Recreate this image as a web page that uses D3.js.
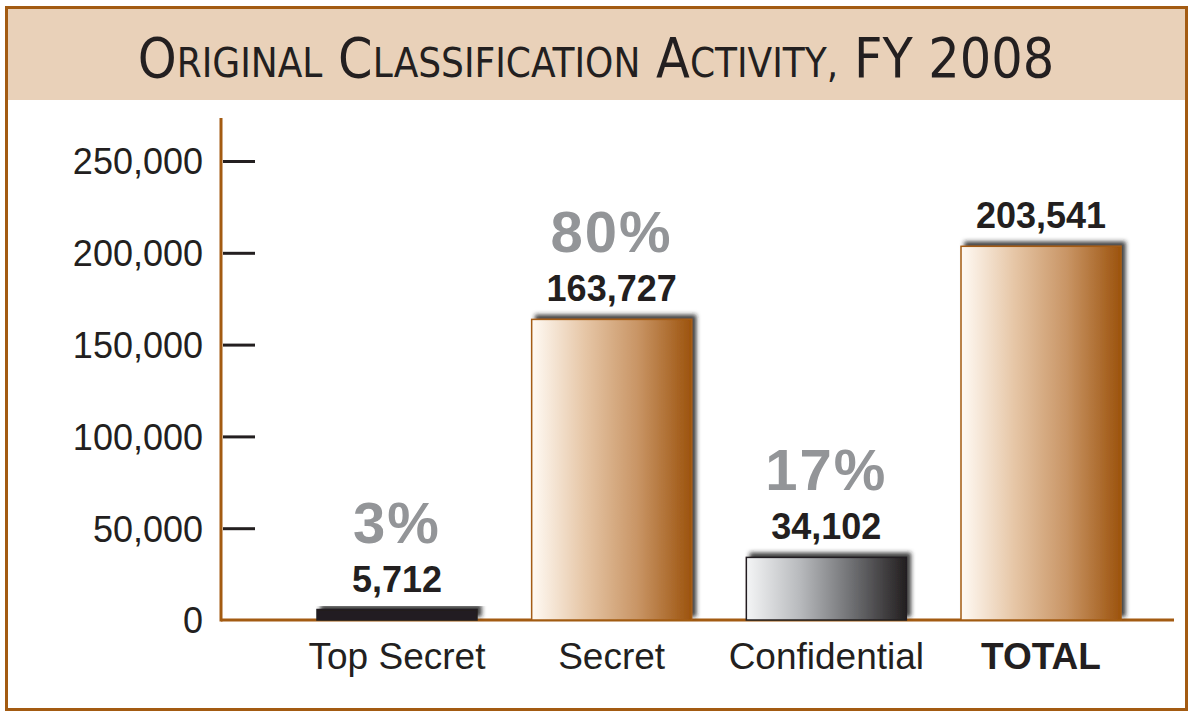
<!DOCTYPE html>
<html>
<head>
<meta charset="utf-8">
<script src="https://cdn.jsdelivr.net/npm/d3@7"></script>
<style>
  body { margin: 0; background: #fff; }
  svg { display: block; }
</style>
</head>
<body>
<div id="chart"></div>
<script>
// data
const categories = ["Top Secret", "Secret", "Confidential", "TOTAL"];
const values = [5712, 163727, 34102, 203541];
const shares = ["3%", "80%", "17%", null];
const yTicks = [0, 50000, 100000, 150000, 200000, 250000];
const titleText = "Original Classification Activity, FY 2008";

const width = 1189, height = 711;
const brown = "#a35b12";
const font = "'Liberation Sans', Arial, sans-serif";

const svg = d3.select("#chart").append("svg")
    .attr("width", width)
    .attr("height", height);

const defs = svg.append("defs");

// gradients: light on the left, dark on the right
const grads = {
    tan: ["#fffaf4", "#e6c6a6", "#c89464", "#9c530d"],
    gray: ["#f4f5f6", "#b8babd", "#6d6e71", "#231f20"]
};
Object.keys(grads).forEach(k => {
    const g = defs.append("linearGradient").attr("id", "grad-" + k)
        .attr("x1", "0%").attr("x2", "100%").attr("y1", "0%").attr("y2", "0%");
    grads[k].forEach((c, i) => {
        g.append("stop").attr("offset", (i / (grads[k].length - 1) * 100) + "%").attr("stop-color", c);
    });
});

const shadow = defs.append("filter").attr("id", "shadow")
    .attr("x", "-10%").attr("y", "-30%").attr("width", "130%").attr("height", "160%");
shadow.append("feDropShadow")
    .attr("dx", 4).attr("dy", -4).attr("stdDeviation", 2)
    .attr("flood-color", "#231f20").attr("flood-opacity", 0.85);

// frame + title band
svg.append("rect")
    .attr("x", 8).attr("y", 9).attr("width", 1177).attr("height", 91)
    .attr("fill", "#e9d1b9");
svg.append("rect")
    .attr("x", 6.5).attr("y", 7.5).attr("width", 1180).attr("height", 702)
    .attr("fill", "none").attr("stroke", brown).attr("stroke-width", 3);

// title in small caps: first letter of each word bigger
const title = svg.append("text")
    .attr("x", 596).attr("y", 77)
    .attr("text-anchor", "middle")
    .attr("font-family", "'DejaVu Sans Condensed', 'DejaVu Sans', sans-serif")
    .attr("fill", "#231f20");
titleText.split(" ").forEach((w, i) => {
    const pre = i > 0 ? " " : "";
    if (/^[0-9]/.test(w) || w === "FY") {
        title.append("tspan").attr("font-size", 55).text(pre + w);
    } else {
        title.append("tspan").attr("font-size", 55).text(pre + w[0]);
        title.append("tspan").attr("font-size", 40).text(w.slice(1).toUpperCase());
    }
});

// scales
const margin = { left: 221, bottom: 620, top: 161 };
const y = d3.scaleLinear().domain([0, 250000]).range([margin.bottom, margin.top]);
const x = d3.scaleBand().domain(categories).range([317, 1121]).paddingInner(0.2547).paddingOuter(0);

// y axis
const yAxis = svg.append("g")
    .attr("transform", `translate(${margin.left},0)`)
    .call(d3.axisRight(y).tickValues(yTicks).tickSize(34).tickFormat(d3.format(",")));
yAxis.select(".domain").remove();
yAxis.selectAll(".tick line").attr("stroke", "#231f20").attr("stroke-width", 3)
    .attr("x1", 2)
    .filter(d => d === 0).remove();
yAxis.selectAll(".tick text")
    .attr("x", -18).attr("dy", "0.36em")
    .attr("text-anchor", "end")
    .attr("font-family", font)
    .attr("font-size", 36)
    .attr("fill", "#231f20");

svg.append("line")
    .attr("x1", margin.left).attr("x2", margin.left)
    .attr("y1", 118).attr("y2", margin.bottom + 1.5)
    .attr("stroke", brown).attr("stroke-width", 3);
svg.append("line")
    .attr("x1", margin.left).attr("x2", 1174)
    .attr("y1", margin.bottom).attr("y2", margin.bottom)
    .attr("stroke", brown).attr("stroke-width", 3);

// bars
const bars = svg.append("g");
categories.forEach((c, i) => {
    const isGray = c === "Top Secret" || c === "Confidential";
    const bx = x(c), bw = x.bandwidth();
    const top = y(values[i]);
    bars.append("rect")
        .attr("x", bx).attr("y", top)
        .attr("width", bw).attr("height", margin.bottom - top)
        .attr("fill", c === "Top Secret" ? "#231f20" : (isGray ? "url(#grad-gray)" : "url(#grad-tan)"))
        .attr("stroke", isGray ? "#231f20" : brown)
        .attr("stroke-width", 1.5)
        .attr("filter", "url(#shadow)");

    const cx = bx + bw / 2;
    svg.append("text")
        .attr("x", cx).attr("y", top - 18)
        .attr("text-anchor", "middle")
        .attr("font-family", font)
        .attr("font-weight", "bold")
        .attr("font-size", 36)
        .attr("fill", "#231f20")
        .text(d3.format(",")(values[i]));
    if (shares[i]) {
        svg.append("text")
            .attr("x", cx).attr("y", top - 67)
            .attr("text-anchor", "middle")
            .attr("font-family", font)
            .attr("font-weight", "bold")
            .attr("font-size", 58)
            .attr("letter-spacing", 2)
            .attr("fill", "#939598")
            .text(shares[i]);
    }
    svg.append("text")
        .attr("x", cx).attr("y", 669)
        .attr("text-anchor", "middle")
        .attr("font-family", font)
        .attr("font-weight", c === "TOTAL" ? "bold" : "normal")
        .attr("font-size", 37)
        .attr("fill", "#231f20")
        .text(c);
});
</script>
</body>
</html>
